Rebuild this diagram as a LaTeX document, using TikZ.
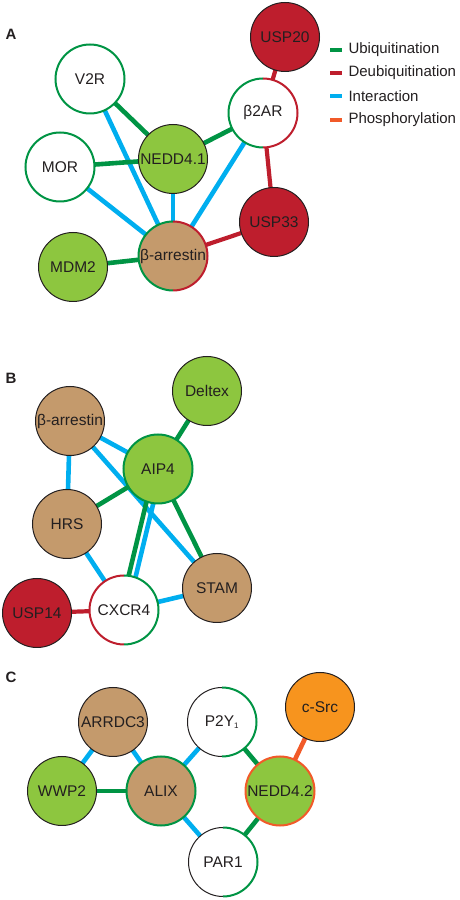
\documentclass[tikz,border=0pt]{standalone}
\usepackage{fontspec}
\setmainfont{Liberation Sans}
\usetikzlibrary{backgrounds}
\definecolor{lgreen}{RGB}{141,198,63}
\definecolor{dgreen}{RGB}{0,148,68}
\definecolor{dred}{RGB}{190,30,45}
\definecolor{cyanb}{RGB}{0,174,239}
\definecolor{tan}{RGB}{196,154,108}
\definecolor{orng}{RGB}{247,148,30}
\definecolor{phos}{RGB}{241,90,41}
\definecolor{txt}{RGB}{35,31,32}
\tikzset{
  nd/.style={circle, minimum size=69pt, inner sep=0pt, outer sep=0pt,
    font=\fontsize{15.5}{18}\selectfont, text=txt},
  blk/.style={nd, draw=txt, line width=1pt},
  grn/.style={nd, draw=dgreen, line width=2pt},
  split/.style={nd},
  ub/.style={line width=4.6pt, draw=dgreen},
  deub/.style={line width=4.2pt, draw=dred},
  inter/.style={line width=4.6pt, draw=cyanb},
  ph/.style={line width=4.6pt, draw=phos},
  plabel/.style={font=\fontsize{15}{18}\selectfont\bfseries, text=txt},
  lgtext/.style={anchor=west, font=\fontsize{15}{18}\selectfont, text=txt}
}
\newcommand\halfring[5]{%
  \draw[#2, line width=#3] (#1.north) arc[start angle=90, end angle=270, radius=34.5pt];
  \draw[#4, line width=#5] (#1.south) arc[start angle=-90, end angle=90, radius=34.5pt];}
\begin{document}
\begin{tikzpicture}[x=1pt,y=1pt]
\useasboundingbox (0,0) rectangle (459,900);
% ---------- Panel A
\node[plabel] (labA) at (11,866) {A};
\node[blk, fill=dred] (USPtwenty) at (285,863) {USP20};
\node[grn, fill=white] (VtwoR) at (90,821) {V2R};
\node[split, fill=white] (btwoAR) at (263,787) {β2AR};
\node[grn, fill=white] (MOR) at (60,733) {MOR};
\node[blk, fill=lgreen] (NEDDa) at (173,741) {NEDD4.1};
\node[blk, fill=dred] (USPthirty) at (274,678) {USP33};
\node[split, fill=tan] (barrA) at (173,644) {β-arrestin};
\node[blk, fill=lgreen] (MDMtwo) at (73,633) {MDM2};
\halfring{btwoAR}{dgreen}{2pt}{dred}{2pt}
\halfring{barrA}{dgreen}{2pt}{dred}{2pt}
\begin{pgfonlayer}{background}
\draw[deub] (USPtwenty.center) -- (btwoAR.center);
\draw[ub] (btwoAR.center) -- (NEDDa.center);
\draw[deub] (btwoAR.center) -- (USPthirty.center);
\draw[inter] (btwoAR.center) -- (barrA.center);
\draw[ub] (VtwoR.center) -- (NEDDa.center);
\draw[inter] (VtwoR.center) -- (barrA.center);
\draw[ub] (MOR.center) -- (NEDDa.center);
\draw[inter] (MOR.center) -- (barrA.center);
\draw[inter] (NEDDa.center) -- (barrA.center);
\draw[deub] (USPthirty.center) -- (barrA.center);
\draw[ub] (MDMtwo.center) -- (barrA.center);
\end{pgfonlayer}
% legend
\fill[dgreen] (330,848) rectangle (342,852);
\node[lgtext] (lgone) at (345,850) {Ubiquitination};
\fill[dred] (330,825) rectangle (342,829);
\node[lgtext] (lgtwo) at (345,827) {Deubiquitination};
\fill[cyanb] (330,802) rectangle (342,806);
\node[lgtext] (lgthree) at (345,804) {Interaction};
\fill[phos] (330,778) rectangle (342,782);
\node[lgtext] (lgfour) at (345,780) {Phosphorylation};
% ---------- Panel B
\node[plabel] (labB) at (11,522) {B};
\node[blk, fill=lgreen] (Deltex) at (207,509) {Deltex};
\node[blk, fill=tan] (barrB) at (70,479) {β-arrestin};
\node[grn, fill=lgreen] (AIP) at (158,431) {AIP4};
\node[blk, fill=tan] (HRS) at (67,376) {HRS};
\node[blk, fill=tan] (STAM) at (217,312) {STAM};
\node[split, fill=white] (CXCR) at (124,290) {CXCR4};
\node[blk, fill=dred] (USPfourteen) at (37,287) {USP14};
\halfring{CXCR}{dred}{2pt}{dgreen}{2pt}
\begin{pgfonlayer}{background}
\draw[ub] (Deltex.center) -- (AIP.center);
\draw[inter] (barrB.center) -- (AIP.center);
\draw[inter] (barrB.center) -- (HRS.center);
\draw[inter] (barrB.center) -- (STAM.center);
\draw[ub] (HRS.center) -- (AIP.center);
\draw[inter] (HRS.center) -- (CXCR.center);
\draw[ub, transform canvas={xshift=-3.6pt}] (AIP.center) -- (CXCR.center);
\draw[inter, transform canvas={xshift=3.6pt}] (AIP.center) -- (CXCR.center);
\draw[ub] (AIP.center) -- (STAM.center);
\draw[inter] (CXCR.center) -- (STAM.center);
\draw[deub] (USPfourteen.center) -- (CXCR.center);
\end{pgfonlayer}
% ---------- Panel C
\node[plabel] (labC) at (11,223) {C};
\node[blk, fill=orng] (cSrc) at (320,193) {c-Src};
\node[blk, fill=tan] (ARRDC) at (113,178) {ARRDC3};
\node[split, fill=white] (PtwoY) at (222,178) {P2Y\textsubscript{\fontsize{8}{9}\selectfont 1}};
\node[blk, fill=lgreen] (WWP) at (62,109) {WWP2};
\node[grn, fill=tan] (ALIX) at (161,109) {ALIX};
\node[nd, draw=phos, line width=2pt, fill=lgreen] (NEDDb) at (280,109) {NEDD4.2};
\node[split, fill=white] (PAR) at (223,38) {PAR1};
\halfring{PtwoY}{txt}{1pt}{dgreen}{2pt}
\halfring{PAR}{txt}{1pt}{dgreen}{2pt}
\begin{pgfonlayer}{background}
\draw[inter] (ARRDC.center) -- (WWP.center);
\draw[inter] (ARRDC.center) -- (ALIX.center);
\draw[ub] (WWP.center) -- (ALIX.center);
\draw[inter] (ALIX.center) -- (PtwoY.center);
\draw[inter] (ALIX.center) -- (PAR.center);
\draw[ub] (PtwoY.center) -- (NEDDb.center);
\draw[ub] (PAR.center) -- (NEDDb.center);
\draw[ph] (cSrc.center) -- (NEDDb.center);
\end{pgfonlayer}
\end{tikzpicture}
\end{document}
